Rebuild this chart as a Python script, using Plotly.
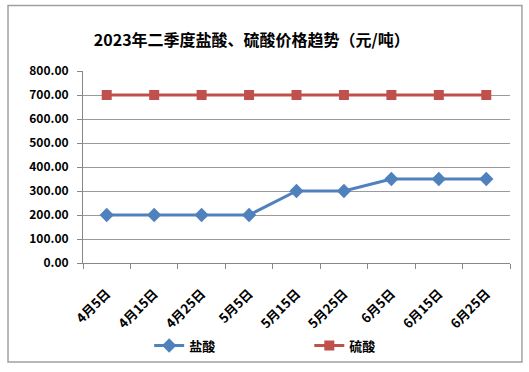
import plotly.graph_objects as go

dates = ["4月5日", "4月15日", "4月25日", "5月5日", "5月15日", "5月25日", "6月5日", "6月15日", "6月25日"]
hcl = [200, 200, 200, 200, 300, 300, 350, 350, 350]
h2so4 = [700, 700, 700, 700, 700, 700, 700, 700, 700]
yticks = [0, 100, 200, 300, 400, 500, 600, 700, 800]

FONT = "Noto Sans CJK SC"

fig = go.Figure()
fig.add_trace(go.Scatter(x=dates, y=hcl, name="盐酸", mode="lines+markers", legend="legend",
                         line=dict(color="#4F81BD", width=3),
                         marker=dict(symbol="diamond", size=11, color="#4F81BD")))
fig.add_trace(go.Scatter(x=dates, y=h2so4, name="硫酸", mode="lines+markers", legend="legend2",
                         line=dict(color="#C0504D", width=3),
                         marker=dict(symbol="square", size=10, color="#C0504D")))

leg_common = dict(orientation="h", yanchor="middle", y=-0.43, xanchor="left",
                  font=dict(family=FONT, size=13, weight="bold", color="black"),
                  bgcolor="rgba(0,0,0,0)", itemwidth=30)

fig.update_layout(
    width=529, height=372,
    margin=dict(l=83, r=19, t=71, b=109, autoexpand=False),
    paper_bgcolor="white", plot_bgcolor="white",
    font=dict(family=FONT, size=11, color="black"),
    title=dict(text="2023年二季度盐酸、硫酸价格趋势（元/吨）", x=0.476, xanchor="center",
               y=0.892, yanchor="middle",
               font=dict(family=FONT, size=16, color="black", weight="bold")),
    showlegend=True,
    legend=dict(x=0.155, **leg_common),
    legend2=dict(x=0.53, **leg_common),
    shapes=[dict(type="rect", xref="paper", yref="paper", x0=-0.1756, x1=1.028, y0=-0.516, y1=1.341,
                 line=dict(color="#A0A0A0", width=1.5))],
)
fig.update_xaxes(type="category", tickangle=-45, showgrid=False, showline=True, linecolor="#888888",
                 ticks="outside", tickson="boundaries", ticklen=5, tickcolor="#888888",
                 tickfont=dict(size=13, weight="bold"), range=[-0.5, 8.5], automargin=False,
                 ticklabelstandoff=17)
fig.update_yaxes(range=[0, 800], tickvals=yticks, ticktext=[f"{v:.2f}" for v in yticks],
                 showgrid=True, gridcolor="#9A9A9A", gridwidth=1, showline=True, linecolor="#888888",
                 ticks="outside", ticklen=5, tickcolor="#888888", zeroline=False,
                 tickfont=dict(size=12, weight="bold"), automargin=False, ticklabelstandoff=6)

fig.write_html("out.html", config={"displayModeBar": False},
               post_script="document.body.style.margin='0';document.body.style.overflow='hidden';")
